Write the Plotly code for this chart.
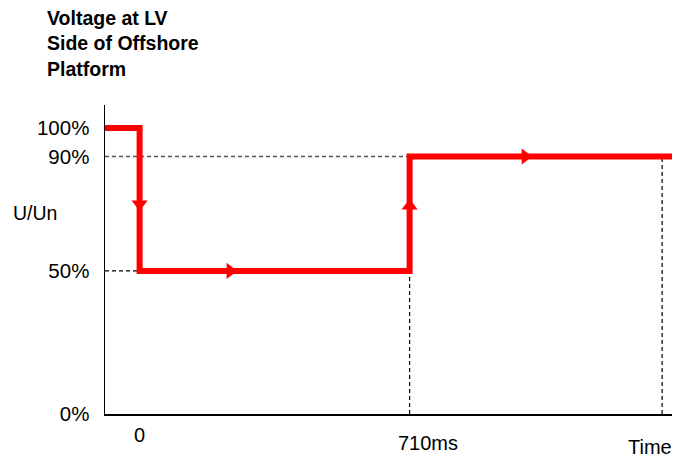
import plotly.graph_objects as go

# ---- data (schematic voltage profile) ----
time_ms = [-91, 0, 0, 710, 710, 1400]          # time axis (ms)
u_pct = [100, 100, 50, 50, 90, 90]             # U/Un (%)

arrow_t = [0, 238, 710, 1014]
arrow_u = [73.4, 50, 72.7, 90]
arrow_sym = ["triangle-down", "triangle-right", "triangle-up", "triangle-right"]

ref90_t = [-91, 1395]
ref90_u = [90, 90]
ref50_t = [-91, 0]
ref50_u = [50, 50]
v710_t = [710, 710]
v710_u = [0, 50]
vend_t = [1374, 1374]
vend_u = [0, 90]

ytick_vals = [0, 50, 90, 100]
ytick_text = ["0%", "50%", "90%", "100%"]

FONT = "Liberation Sans"

fig = go.Figure()

dash = "4px,3px"
fig.add_trace(go.Scatter(x=ref90_t, y=ref90_u, mode="lines",
                         line=dict(color="#555555", width=1.3, dash=dash), hoverinfo="skip"))
fig.add_trace(go.Scatter(x=ref50_t, y=ref50_u, mode="lines",
                         line=dict(color="#000000", width=1.2, dash=dash), hoverinfo="skip"))
fig.add_trace(go.Scatter(x=v710_t, y=v710_u, mode="lines",
                         line=dict(color="#000000", width=1.2, dash=dash), hoverinfo="skip"))
fig.add_trace(go.Scatter(x=vend_t, y=vend_u, mode="lines",
                         line=dict(color="#000000", width=1.2, dash=dash), hoverinfo="skip"))

fig.add_trace(go.Scatter(x=time_ms, y=u_pct, mode="lines",
                         line=dict(color="#FF0000", width=6), hoverinfo="skip"))
fig.add_trace(go.Scatter(x=arrow_t, y=arrow_u, mode="markers",
                         marker=dict(symbol=arrow_sym, size=14, color="#FF0000",
                                     line=dict(width=0)), hoverinfo="skip"))

fig.update_layout(
    width=674, height=463,
    margin=dict(l=105, r=2, t=105, b=49),
    paper_bgcolor="white", plot_bgcolor="white",
    showlegend=False,
    font=dict(family=FONT, size=20, color="black"),
    xaxis=dict(range=[-91, 1400], showgrid=False, zeroline=False,
               showline=True, linecolor="black", linewidth=1.5,
               showticklabels=False, ticks=""),
    yaxis=dict(range=[0, 108], showgrid=False, zeroline=False,
               showline=True, linecolor="black", linewidth=1.5,
               tickvals=ytick_vals, ticktext=ytick_text, ticks="",
               ticklabelstandoff=10, tickfont=dict(size=20.5, family=FONT)),
)

fig.add_annotation(text="<b>Voltage at LV<br>Side of Offshore<br>Platform</b>",
                   xref="paper", yref="paper", x=-0.105, y=1.325,
                   xanchor="left", yanchor="top", align="left", showarrow=False,
                   font=dict(size=19.5, family=FONT))
fig.add_annotation(text="U/Un", xref="paper", yref="paper", x=-0.1235, y=0.650,
                   xanchor="center", yanchor="middle", showarrow=False,
                   font=dict(size=19.5, family=FONT))
fig.add_annotation(text="0", xref="x", yref="paper", x=0, y=-0.068,
                   xanchor="center", yanchor="middle", showarrow=False,
                   font=dict(size=20, family=FONT))
fig.add_annotation(text="710ms", xref="x", yref="paper", x=710, y=-0.094, xshift=18,
                   xanchor="center", yanchor="middle", showarrow=False,
                   font=dict(size=20, family=FONT))
fig.add_annotation(text="Time", xref="paper", yref="paper", x=0.961, y=-0.107,
                   xanchor="center", yanchor="middle", showarrow=False,
                   font=dict(size=20, family=FONT))

fig.write_html("out.html",
               config={"displayModeBar": False, "staticPlot": True},
               post_script="document.body.style.margin='0';document.body.style.overflow='hidden';")
